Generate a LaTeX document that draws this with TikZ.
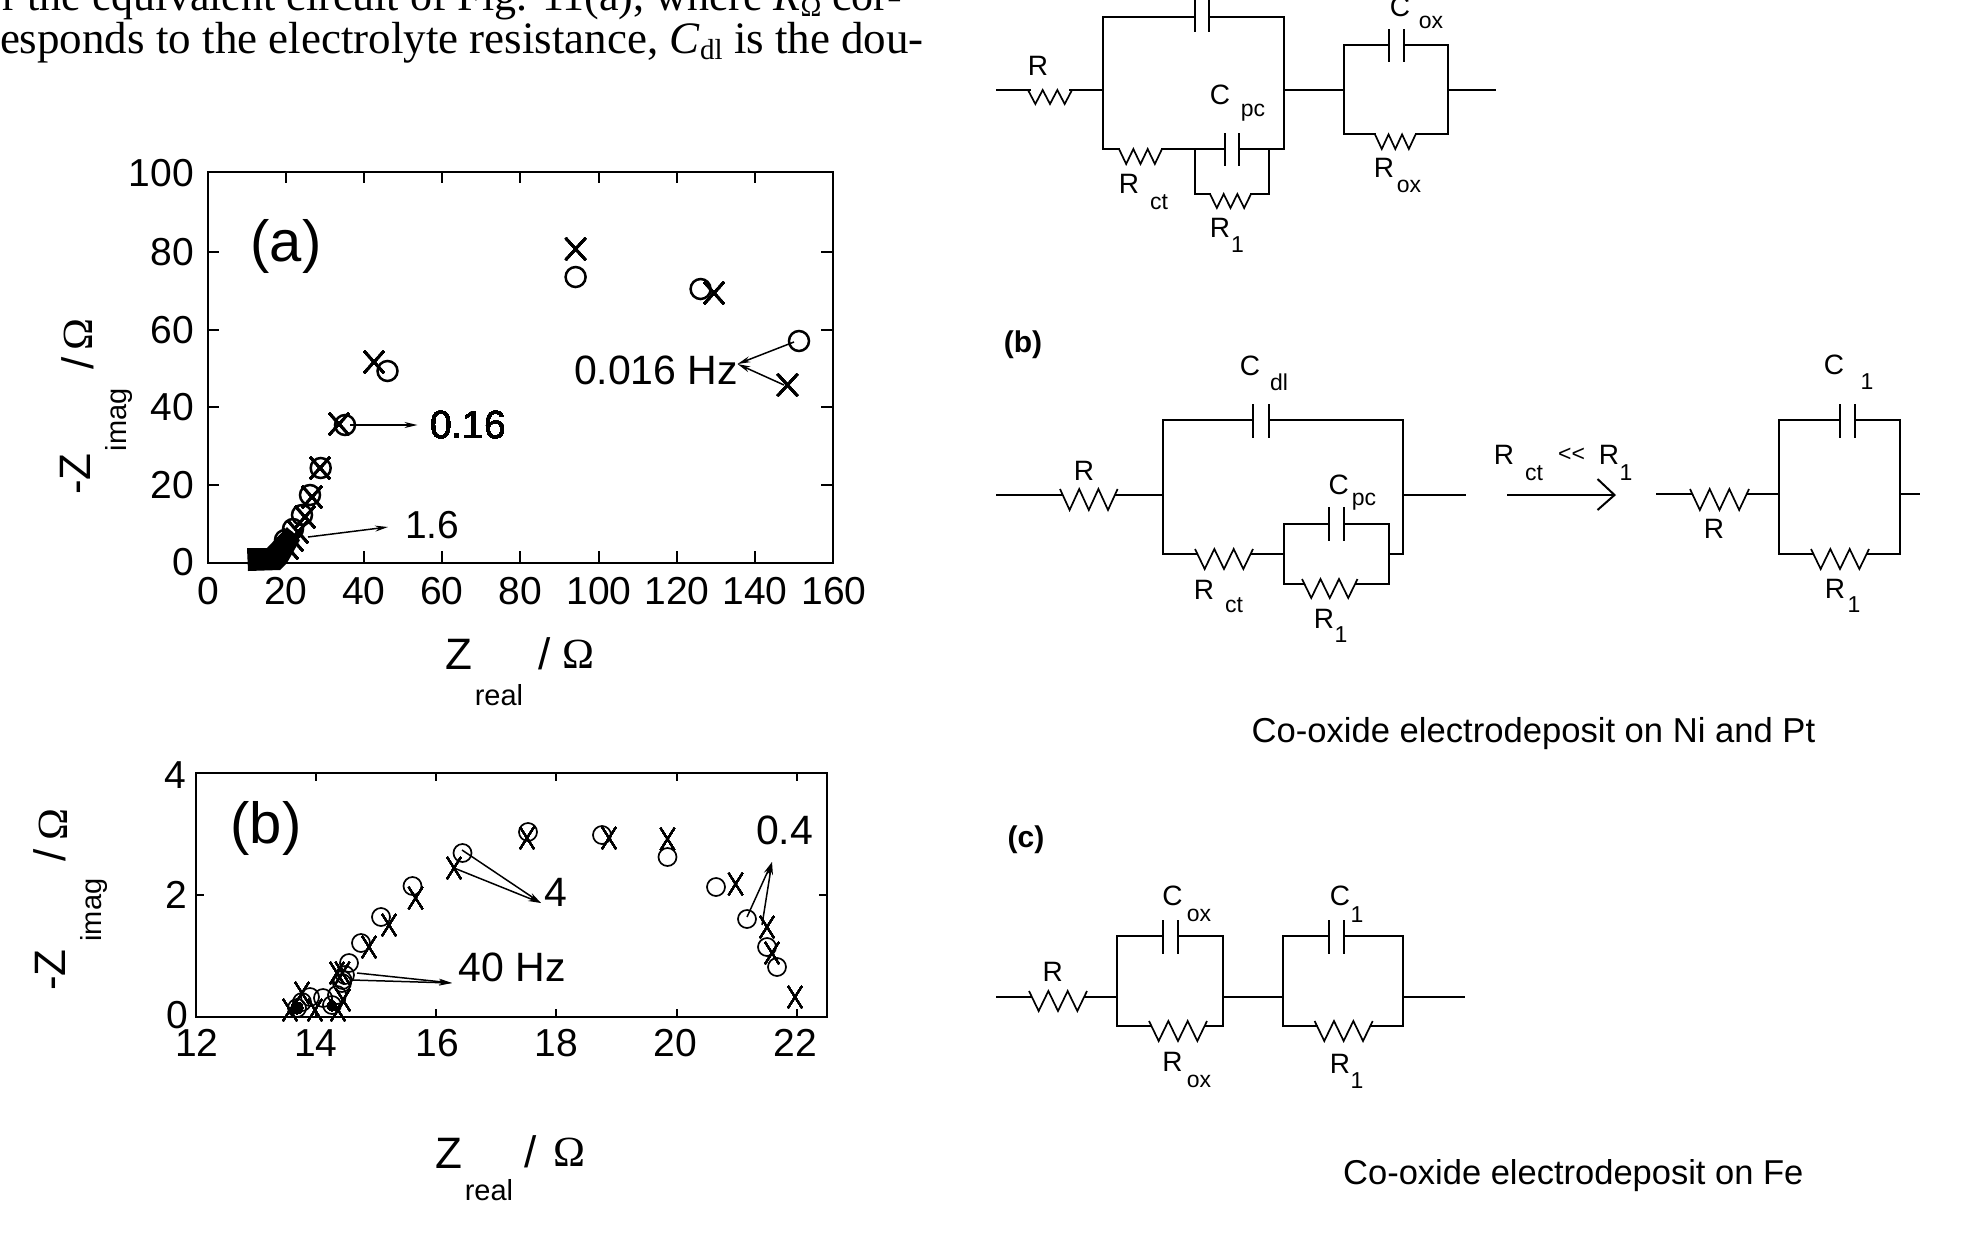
\documentclass[tikz,border=0pt]{standalone}
\usepackage{fontspec}
\setmainfont{Liberation Sans}
\newfontfamily\tms{Liberation Serif}
\usetikzlibrary{arrows.meta}
\newcommand\fsz[1]{\fontsize{#1}{#1}\selectfont}
\newcommand\mO[2]{\draw[mka] (#1,#2) circle[radius=10pt];}
\newcommand\mX[2]{\draw[mka] (#1-10,#2-11) -- (#1+10,#2+11) (#1-10,#2+11) -- (#1+10,#2-11);}
\newcommand\nO[2]{\draw[mkb] (#1,#2) circle[radius=9pt];}
\newcommand\nX[2]{\draw[mkb] (#1-7,#2-11) -- (#1+7,#2+11) (#1-7,#2+11) -- (#1+7,#2-11);}
% zigzag resistor: x0, x1, upper y, lower y
\newcommand\zz[4]{\draw[res] ({#1},#3) -- ({#1+(#2-#1)/6},#4) -- ({#1+2*(#2-#1)/6},#3) -- ({#1+3*(#2-#1)/6},#4) -- ({#1+4*(#2-#1)/6},#3) -- ({#1+5*(#2-#1)/6},#4) -- ({#2},#3);}
% capacitor: x left plate, x right plate, y top, y bottom
\newcommand\cp[4]{\draw[wire] (#1,#3) -- (#1,#4) (#2,#3) -- (#2,#4);}
\tikzset{
  x=1pt,y=-1pt,
  frame/.style={line width=2pt,black},
  tick/.style={line width=1.6pt,black},
  mka/.style={line width=2.5pt,black},
  mkb/.style={line width=1.7pt,black},
  wire/.style={line width=2pt,black,line cap=rect},
  res/.style={line width=1.7pt,black,line join=miter},
  lead/.style={line width=1.5pt,black,-{Stealth[length=13pt,width=6pt]}},
  num/.style={inner sep=0pt,outer sep=0pt,font=\fsz{39}},
  lbl/.style={inner sep=0pt,outer sep=0pt,font=\fsz{41}},
  big/.style={inner sep=0pt,outer sep=0pt,font=\fsz{58}},
  ax/.style={inner sep=0pt,outer sep=0pt,font=\fsz{44}},
  axs/.style={inner sep=0pt,outer sep=0pt,font=\fsz{29}},
  om/.style={inner sep=0pt,outer sep=0pt,font=\tms\fsz{43}},
  cn/.style={inner sep=0pt,outer sep=0pt,font=\fsz{28}},
  cs/.style={inner sep=0pt,outer sep=0pt,font=\fsz{23}},
  pl/.style={inner sep=0pt,outer sep=0pt,font=\bfseries\fsz{30}},
  body/.style={inner sep=0pt,outer sep=0pt,font=\tms,anchor=base west},
}
\begin{document}
\begin{tikzpicture}
\useasboundingbox (0,0) rectangle (1970,1240);
\fill[white] (0,0) rectangle (1970,1240);
% body text
\node[body,font=\tms\fsz{44}] (line1) at (2,10) {r the equivalent circuit of Fig. 11(a), where \textit{R}{\fsz{28}\raisebox{-6pt}{Ω}} cor-};
\node[body,font=\tms\fsz{45}] (line2) at (0,53) {esponds to the electrolyte resistance, \textit{C}{\fsz{29}\raisebox{-6pt}{dl}} is the dou-};
%% ---- plot (a)
\draw[frame] (207.5,172) rectangle (832.5,562.5);
\foreach \x in {286,364,442,520,599,677,755} {
  \draw[tick] (\x,562.5) -- (\x,551);
  \draw[tick] (\x,172) -- (\x,183);
}
\foreach \y in {252,330,407,485} {
  \draw[tick] (207.5,\y) -- (219,\y);
  \draw[tick] (832.5,\y) -- (821,\y);
}
\foreach \t/\y/\n in {100/173/a,80/252/b,60/330/c,40/407/d,20/485/e,0/562/f}
  \node[num,anchor=east] (ay\n) at (194,\y) {\t};
\foreach \t/\x/\n in {0/208/a,20/286/b,40/364/c,60/442/d,80/520/e,100/599/f,120/677/g,140/755/h,160/834/i}
  \node[num] (ax\n) at (\x,591) {\t};
\node[big] (pa) at (286,246) {(a)};
\node[ax,rotate=90] (ayl) at (75,474) {-Z};
\node[axs,rotate=90] (ayl2) at (119,420) {imag};
\node[ax,rotate=90] (ayl3) at (78,363) {/};
\node[om,rotate=90] (ayl4) at (78,335) {Ω};
\node[ax] (axl) at (459,654) {Z};
\node[axs] (axl2) at (499,695) {real};
\node[ax] (axl3) at (545,654) {/};
\node[om] (axl4) at (578,654) {Ω};
% data (a)
\fill[black] (247,548) -- (267,548) -- (287,527) -- (300,540) -- (287,563) -- (280,570) -- (248,571) -- cycle;
\foreach \x/\y in {575.6/277,700.6/289,799/341,387.5/371,345/425,320.7/468,310/495,302/515,293/529,285/540} \mO{\x}{\y}
\foreach \x/\y in {575.6/249,714/293,787.5/385,374/362,339/424,320/468,312/497,305/517,298/532,293/540,288/548} \mX{\x}{\y}
\node[num,anchor=west] (lfreqb) at (430,425) {0.16};
\node[num,anchor=west] (lfreqc) at (405,525) {1.6};
\node[lbl,anchor=west] (lfreqa) at (574,370) {0.016 Hz};
\coordinate (a1s) at (350,425); \coordinate (a1e) at (417.5,425);
\coordinate (a2s) at (308,537); \coordinate (a2e) at (388,527);
\coordinate (a3s) at (794,342); \coordinate (a4s) at (784,385); \coordinate (a3e) at (737.5,364);
\draw[lead] (a1s) -- (a1e);
\draw[lead] (a2s) -- (a2e);
\draw[lead] (a3s) -- (a3e);
\draw[lead] (a4s) -- (a3e);
%% ---- plot (b)
\draw[frame] (195.5,773) rectangle (827,1017);
\foreach \x in {316,436,556,677,797} {
  \draw[tick] (\x,1017) -- (\x,1009);
  \draw[tick] (\x,773) -- (\x,781);
}
\draw[tick] (195.5,895) -- (203.5,895);
\draw[tick] (827,895) -- (819,895);
\node[num] (by4) at (175,775) {4};
\node[num] (by2) at (176,895) {2};
\node[num] (by0) at (177,1015) {0};
\foreach \t/\x/\n in {12/197/a,14/316/b,16/437.5/c,18/556/d,20/675/e,22/795/f}
  \node[num] (bx\n) at (\x,1043) {\t};
\node[big] (pb) at (266,828) {(b)};
\node[ax,rotate=90] (byl) at (50,970) {-Z};
\node[axs,rotate=90] (byl2) at (94,910) {imag};
\node[ax,rotate=90] (byl3) at (50,855) {/};
\node[om,rotate=90] (byl4) at (53,825) {Ω};
\node[ax] (bxl) at (449,1153) {Z};
\node[axs] (bxl2) at (489,1190) {real};
\node[ax] (bxl3) at (531,1152) {/};
\node[om] (bxl4) at (569,1152) {Ω};
% data (b)
\foreach \x/\y in {462.5/853,412.5/886,381/917,361/943,349/963,342.5/980,528/832,602/835,667.5/857,716/887,747/919,767/947,777/967,297/1008,302/1002,310/997,323/998,332/1005,337/995,342/983,345/975} \nO{\x}{\y}
\foreach \x/\y in {454/868,415.6/898,389/925,369/947,527/838,609/838,667.5/839,735.6/884,767/927,772/953,795/997,342.5/973,290/1010,302/993,315/1010,338/1010,343/1000,337/973} \nX{\x}{\y}
\fill[black] (297,1008) circle[radius=6pt] (332,1006) circle[radius=5pt];
\node[lbl] (lhz) at (512.5,967) {40 Hz};
\node[lbl] (lfour) at (556,892) {4};
\node[lbl] (lpfour) at (784.5,830) {0.4};
\coordinate (b1s) at (357,973); \coordinate (b2s) at (352,980); \coordinate (b1e) at (452,983);
\coordinate (b3s) at (462,850); \coordinate (b4s) at (454,868); \coordinate (b3e) at (541,903);
\coordinate (b5s) at (747,917); \coordinate (b6s) at (762,925); \coordinate (b5e) at (772,862);
\draw[lead] (b1s) -- (b1e);
\draw[lead] (b2s) -- (b1e);
\draw[lead] (b3s) -- (b3e);
\draw[lead] (b4s) -- (b3e);
\draw[lead] (b5s) -- (b5e);
\draw[lead] (b6s) -- (b5e);
%% ---- circuit (a), cut by the top edge
\draw[wire] (997,90) -- (1030,90);
\zz{1028}{1072}{90}{104}
\draw[wire] (1070,90) -- (1103,90);
\draw[wire] (1194.6,16.5) -- (1103,16.5) -- (1103,149) -- (1119,149);
\draw[wire] (1208.5,16.5) -- (1284,16.5) -- (1284,149) -- (1239,149);
\cp{1194.6}{1208.5}{0}{31}
\zz{1119}{1162}{149}{164}
\draw[wire] (1162,149) -- (1225,149);
\cp{1225}{1239}{134}{165}
\draw[wire] (1194.6,149) -- (1194.6,194) -- (1210,194);
\zz{1210}{1251}{194}{208}
\draw[wire] (1251,194) -- (1269,194) -- (1269,149);
\draw[wire] (1284,90) -- (1344,90);
\draw[wire] (1389,44.7) -- (1344,44.7) -- (1344,134.4) -- (1375,134.4);
\draw[wire] (1404,44.7) -- (1448,44.7) -- (1448,134.4) -- (1415.6,134.4);
\cp{1389}{1404}{30}{61}
\zz{1375}{1415.6}{134.4}{149}
\draw[wire] (1448,90) -- (1494.5,90);
\node[cn] (ca1) at (1038,66) {R};
\node[cn] (ca2) at (1220,94.5) {C};
\node[cs] (ca3) at (1253,113) {pc};
\node[cn] (ca4) at (1400,6.5) {C};
\node[cs] (ca5) at (1431,22.5) {ox};
\node[cn] (ca6) at (1129,184) {R};
\node[cs] (ca7) at (1159,202) {ct};
\node[cn] (ca8) at (1220,228) {R};
\node[cs] (ca9) at (1237.6,245) {1};
\node[cn] (ca10) at (1384,168) {R};
\node[cs] (ca11) at (1409,186) {ox};
%% ---- circuit (b)
\node[pl] (lb) at (1023,345) {(b)};
\draw[wire] (997,495) -- (1062,495);
\zz{1060}{1117.6}{489}{510}
\draw[wire] (1115.6,495) -- (1163,495);
\draw[wire] (1253,420) -- (1163,420) -- (1163,554) -- (1197,554);
\draw[wire] (1268.5,420) -- (1403,420) -- (1403,554) -- (1388.5,554);
\cp{1253}{1268.5}{405}{437}
\zz{1195}{1253}{549}{569}
\draw[wire] (1251,554) -- (1284,554);
\draw[wire] (1328.5,524) -- (1284,524) -- (1284,584) -- (1304,584);
\draw[wire] (1343.6,524) -- (1388.5,524) -- (1388.5,584) -- (1355.5,584);
\cp{1328.5}{1343.6}{508}{540}
\zz{1302}{1357.5}{579}{598}
\draw[wire] (1403,495) -- (1465,495);
\node[cn] (cb1) at (1084,470.5) {R};
\node[cn] (cb2) at (1250,365.6) {C};
\node[cs] (cb3) at (1279,382) {dl};
\node[cn] (cb4) at (1338.6,485) {C};
\node[cs] (cb5) at (1364,502) {pc};
\node[cn] (cb6) at (1204,590) {R};
\node[cs] (cb7) at (1234,605) {ct};
\node[cn] (cb8) at (1324,619) {R};
\node[cs] (cb9) at (1341,635) {1};
% reduction arrow
\coordinate (ra1) at (1507,495); \coordinate (ra2) at (1614.5,495);
\coordinate (ra3) at (1597.5,479); \coordinate (ra4) at (1597.5,510);
\draw[line width=2pt,black] (ra1) -- (ra2);
\draw[line width=2pt,black] (ra3) -- (ra2) -- (ra4);
\node[cn] (cr1) at (1504,455) {R};
\node[cs] (cr2) at (1534,473) {ct};
\node[cs] (cr3) at (1571.5,455) {{<}{<}};
\node[cn] (cr4) at (1609,455) {R};
\node[cs] (cr5) at (1626,473) {1};
% reduced circuit
\draw[wire] (1657,494) -- (1692,494);
\zz{1690}{1749}{489}{510}
\draw[wire] (1747,494) -- (1778.6,494);
\draw[wire] (1840,420) -- (1778.6,420) -- (1778.6,554) -- (1813,554);
\draw[wire] (1855,420) -- (1900,420) -- (1900,554) -- (1867,554);
\cp{1840}{1855}{405}{437}
\zz{1811}{1869}{549}{569}
\draw[wire] (1900,494) -- (1919.4,494);
\node[cn] (cd1) at (1834,365) {C};
\node[cs] (cd2) at (1867,382) {1};
\node[cn] (cd3) at (1714,529) {R};
\node[cn] (cd4) at (1835,589) {R};
\node[cs] (cd5) at (1854,605) {1};
\node[inner sep=0pt,font=\fsz{34.6},anchor=west] (cap1) at (1251.5,733.6) {Co-oxide electrodeposit on Ni and Pt};
%% ---- circuit (c)
\node[pl] (lc) at (1026,840) {(c)};
\draw[wire] (997,997) -- (1031,997);
\zz{1029}{1087}{991}{1011}
\draw[wire] (1085,997) -- (1117,997);
\draw[wire] (1163,936.4) -- (1117,936.4) -- (1117,1026.4) -- (1151,1026.4);
\draw[wire] (1178,936.4) -- (1223,936.4) -- (1223,1026.4) -- (1205,1026.4);
\cp{1163}{1178}{921}{953}
\zz{1149}{1207}{1021}{1041}
\draw[wire] (1223,997) -- (1283,997);
\draw[wire] (1328.5,936.4) -- (1283,936.4) -- (1283,1026.4) -- (1316.6,1026.4);
\draw[wire] (1343.6,936.4) -- (1403,936.4) -- (1403,1026.4) -- (1370.7,1026.4);
\cp{1328.5}{1343.6}{921}{953}
\zz{1314.6}{1372.7}{1021}{1041}
\draw[wire] (1403,997) -- (1464,997);
\node[cn] (cc1) at (1052.6,972) {R};
\node[cn] (cc2) at (1172.5,896) {C};
\node[cs] (cc3) at (1199,915) {ox};
\node[cn] (cc4) at (1340,896) {C};
\node[cs] (cc5) at (1357,915) {1};
\node[cn] (cc6) at (1172.5,1062) {R};
\node[cs] (cc7) at (1199,1081) {ox};
\node[cn] (cc8) at (1340,1064) {R};
\node[cs] (cc9) at (1357,1081) {1};
\node[inner sep=0pt,font=\fsz{34.5},anchor=west] (cap2) at (1343,1176) {Co-oxide electrodeposit on Fe};
\end{tikzpicture}
\end{document}
